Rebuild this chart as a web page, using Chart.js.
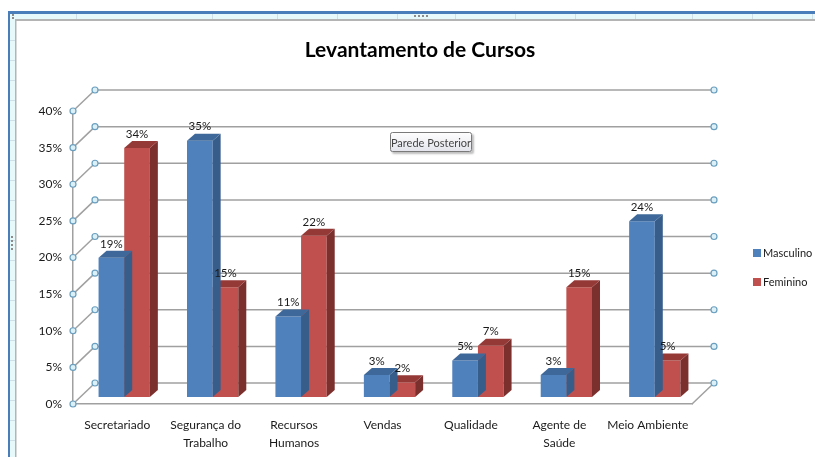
<!DOCTYPE html>
<html>
<head>
<meta charset="utf-8">
<title>Levantamento de Cursos</title>
<script src="https://cdn.jsdelivr.net/npm/chart.js@4.4.1/dist/chart.umd.min.js"></script>
<style>
  html, body { margin: 0; padding: 0; background: #fff; }
  #wrap { position: relative; width: 815px; height: 457px; }
</style>
</head>
<body>
<div id="wrap"><canvas id="chart" width="815" height="457"></canvas></div>
<script>
/* ---- data ---- */
const categorias = [
  "Secretariado",
  ["Segurança do", "Trabalho"],
  ["Recursos", "Humanos"],
  "Vendas",
  "Qualidade",
  ["Agente de", "Saúde"],
  "Meio Ambiente",
];
const series = ["Masculino", "Feminino"];
const masculino = [19, 35, 11, 3, 5, 3, 24];
const feminino = [34, 15, 22, 2, 7, 15, 5];
const yMin = 0;
const yMax = 40;
const yStep = 5;

/* ---- look ---- */
const FONT = "Lato";
const WALL = { dx: 22, dy: -21 };   // back wall offset from the front plane
const SHIFT = { dx: 7, dy: -7 };    // bars stand a bit behind the front plane
const DEPTH = { dx: 8, dy: -7 };    // bar thickness
const faces = [
  { front: "#4f81bd", side: "#375d8b", top: "#3e6899" },
  { front: "#c0504d", side: "#7c302e", top: "#953937" },
];

function line(ctx, x1, y1, x2, y2) {
  ctx.beginPath();
  ctx.moveTo(x1, y1);
  ctx.lineTo(x2, y2);
  ctx.stroke();
}

function knob(ctx, x, y) {
  ctx.beginPath();
  ctx.arc(x, y, 3, 0, Math.PI * 2);
  ctx.fillStyle = "#dcf0f7";
  ctx.fill();
  ctx.lineWidth = 1.2;
  ctx.strokeStyle = "#6a9fbf";
  ctx.stroke();
}

// Excel window chrome around the chart object
const excelFrame = {
  id: "excelFrame",
  beforeDraw(chart) {
    const ctx = chart.ctx;
    const W = chart.width, H = chart.height;
    ctx.save();
    ctx.fillStyle = "#fff";
    ctx.fillRect(0, 0, W, H);

    ctx.fillStyle = "#e8f9fb";
    ctx.fillRect(10, 14, W - 10, 6);
    ctx.fillRect(10, 14, 5, H - 14);

    ctx.strokeStyle = "#cfe0e6";
    ctx.lineWidth = 1;
    [76, 212, 277, 337, 397, 455, 515, 575, 635, 692, 752, 812].forEach((x) => line(ctx, x + 0.5, 14, x + 0.5, 19));
    for (let y = 40; y < H; y += 20) line(ctx, 10, y + 0.5, 15, y + 0.5);

    ctx.fillStyle = "#4a7ebb";
    ctx.fillRect(8, 11, W - 8, 3);
    ctx.fillRect(8, 11, 2, H - 11);

    ctx.fillStyle = "#b4b4b4";
    ctx.fillRect(15, 19, W - 15, 2);
    ctx.fillRect(15, 19, 1.5, H - 19);

    ctx.fillStyle = "#8c8c8c";
    for (let i = 0; i < 4; i++) {
      ctx.fillRect(414 + i * 4, 15, 2, 2);
      ctx.fillRect(11, 236 + i * 4, 2, 2);
    }
    ctx.fillRect(12, 14, 2, 2);
    ctx.fillRect(12, 17, 2, 2);
    ctx.restore();
  },
};

// back wall, floor edge, and the 3D faces of the bars
const wall3d = {
  id: "wall3d",
  beforeDatasetsDraw(chart) {
    const { ctx, chartArea: a, scales } = chart;
    const y = scales.y;
    const rows = y.ticks.map((t) => y.getPixelForValue(t.value));
    ctx.save();
    ctx.strokeStyle = "#a0a0a0";
    ctx.lineWidth = 1.5;
    rows.forEach((py) => {
      line(ctx, a.left, py, a.left + WALL.dx, py + WALL.dy);
      line(ctx, a.left + WALL.dx, py + WALL.dy, a.right + WALL.dx, py + WALL.dy);
    });
    line(ctx, a.right, a.bottom, a.right + WALL.dx, a.bottom + WALL.dy);
    rows.forEach((py) => {
      knob(ctx, a.left, py);
      knob(ctx, a.left + WALL.dx, py + WALL.dy);
      knob(ctx, a.right + WALL.dx, py + WALL.dy);
    });
    ctx.restore();

    ctx.save();
    ctx.translate(SHIFT.dx, SHIFT.dy);
  },
  afterDatasetDraw(chart, args) {
    const ctx = chart.ctx;
    const f = faces[args.index];
    args.meta.data.forEach((bar) => {
      const { x, y, base, width } = bar.getProps(["x", "y", "base", "width"], true);
      const l = x - width / 2, r = x + width / 2;
      ctx.fillStyle = f.side;
      ctx.beginPath();
      ctx.moveTo(r, y);
      ctx.lineTo(r + DEPTH.dx, y + DEPTH.dy);
      ctx.lineTo(r + DEPTH.dx, base + DEPTH.dy);
      ctx.lineTo(r, base);
      ctx.closePath();
      ctx.fill();
      ctx.fillStyle = f.top;
      ctx.beginPath();
      ctx.moveTo(l, y);
      ctx.lineTo(l + DEPTH.dx, y + DEPTH.dy);
      ctx.lineTo(r + DEPTH.dx, y + DEPTH.dy);
      ctx.lineTo(r, y);
      ctx.closePath();
      ctx.fill();
    });
  },
  afterDatasetsDraw(chart) {
    const ctx = chart.ctx;
    ctx.font = `11.5px ${FONT}`;
    ctx.fillStyle = "#1a1a1a";
    ctx.textAlign = "center";
    ctx.textBaseline = "middle";
    chart.data.datasets.forEach((ds, i) => {
      chart.getDatasetMeta(i).data.forEach((bar, j) => {
        ctx.fillText(ds.data[j] + "%", bar.x, bar.y - 14);
      });
    });
    ctx.restore();
  },
  afterDraw(chart) {
    const ctx = chart.ctx;
    ctx.save();
    // legend
    ctx.font = `11px ${FONT}`;
    ctx.textAlign = "left";
    ctx.textBaseline = "middle";
    chart.data.datasets.forEach((ds, i) => {
      const cy = 253 + i * 29;
      ctx.fillStyle = ds.backgroundColor;
      ctx.fillRect(753, cy - 4, 8, 8);
      ctx.fillStyle = "#1a1a1a";
      ctx.fillText(ds.label, 763, cy);
    });

    // "Parede Posterior" hover tip
    const bx = 390, by = 132, bw = 82, bh = 20;
    ctx.shadowColor = "rgba(0,0,0,0.25)";
    ctx.shadowOffsetX = 2;
    ctx.shadowOffsetY = 2;
    ctx.shadowBlur = 2;
    const g = ctx.createLinearGradient(0, by, 0, by + bh);
    g.addColorStop(0, "#ffffff");
    g.addColorStop(1, "#e3e4ec");
    ctx.fillStyle = g;
    ctx.beginPath();
    ctx.roundRect(bx, by, bw, bh, 2);
    ctx.fill();
    ctx.shadowColor = "transparent";
    ctx.strokeStyle = "#7a7a7a";
    ctx.lineWidth = 1;
    ctx.beginPath();
    ctx.roundRect(bx + 0.5, by + 0.5, bw - 1, bh - 1, 2);
    ctx.stroke();
    ctx.fillStyle = "#444";
    ctx.textAlign = "center";
    ctx.fillText("Parede Posterior", bx + bw / 2, by + bh / 2 + 1);
    ctx.restore();
  },
};

new Chart(document.getElementById("chart"), {
  type: "bar",
  data: {
    labels: categorias,
    datasets: [
      { label: series[0], data: masculino, backgroundColor: faces[0].front },
      { label: series[1], data: feminino, backgroundColor: faces[1].front },
    ],
  },
  options: {
    responsive: false,
    animation: false,
    devicePixelRatio: 1,
    layout: { padding: { left: 25, right: 0, top: 0, bottom: 0 } },
    datasets: {
      bar: { categoryPercentage: 0.58, barPercentage: 1.0, borderWidth: 0, clip: false },
    },
    plugins: {
      legend: { display: false },
      tooltip: { enabled: false },
      title: {
        display: true,
        text: "Levantamento de Cursos",
        color: "#000",
        font: { family: FONT, size: 21, weight: "bold" },
        padding: { top: 38, bottom: 47.8 },
      },
    },
    scales: {
      x: {
        grid: { display: false, drawTicks: false },
        border: { display: true, color: "#a0a0a0", width: 1.5 },
        ticks: {
          color: "#1a1a1a",
          font: { family: FONT, size: 12, lineHeight: 1.5 },
          padding: 12,
          autoSkip: false,
          maxRotation: 0,
        },
        afterFit: (s) => { s.height = 53; },
      },
      y: {
        min: yMin,
        max: yMax,
        grid: { display: false, drawTicks: false },
        border: { display: true, color: "#a0a0a0", width: 1.5 },
        ticks: {
          stepSize: yStep,
          color: "#1a1a1a",
          font: { family: FONT, size: 12 },
          padding: 11,
          callback: (v) => v + "%",
        },
        afterFit: (s) => { s.width = 48; },
      },
      // empty right-hand box that holds the space for the wall edge and legend
      y2: {
        position: "right",
        display: true,
        grid: { display: false, drawTicks: false },
        border: { display: false },
        ticks: { display: false },
        afterFit: (s) => { s.width = 123; },
      },
    },
  },
  plugins: [excelFrame, wall3d],
});
</script>
</body>
</html>
